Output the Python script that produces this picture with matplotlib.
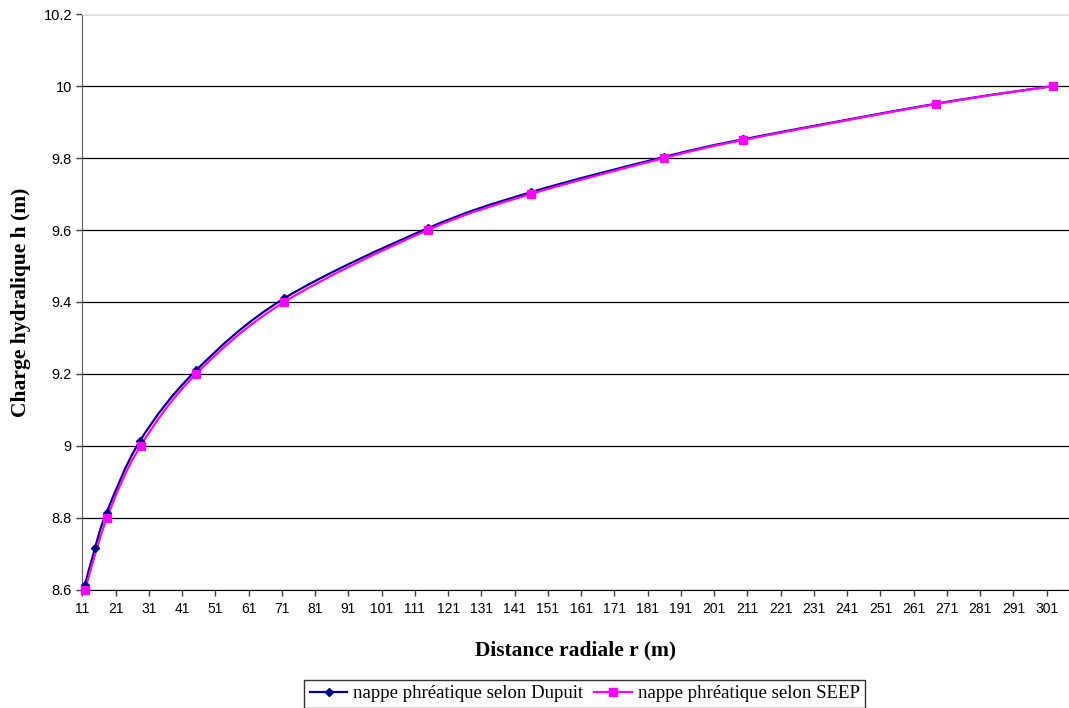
import numpy as np
import matplotlib
matplotlib.use('Agg')
import matplotlib.pyplot as plt
from matplotlib.path import Path
from matplotlib.patches import PathPatch
from matplotlib.lines import Line2D

# values
r_dupuit = [11.8, 14.8, 18.3, 28.4, 45.2, 71.7, 114.9, 145.9, 186.0, 209.8, 267.8, 303.0]
h_dupuit = [8.614, 8.716, 8.815, 9.015, 9.21, 9.41, 9.605, 9.705, 9.803, 9.852, 9.951, 10.0]
r_seep = [11.8, 18.4, 28.5, 45.2, 71.7, 114.9, 145.9, 186.0, 209.8, 267.8, 303.0]
h_seep = [8.60, 8.80, 9.00, 9.20, 9.40, 9.60, 9.70, 9.80, 9.85, 9.95, 10.0]

y_ticks = [8.6, 8.8, 9.0, 9.2, 9.4, 9.6, 9.8, 10.0, 10.2]
y_labels = ['8.6', '8.8', '9', '9.2', '9.4', '9.6', '9.8', '10', '10.2']
x_ticks = list(range(11, 302, 10))

label_dupuit = 'nappe phréatique selon Dupuit'
label_seep = 'nappe phréatique selon SEEP'
col_dupuit = '#000080'
col_seep = '#FF00FF'


def smooth_path(xs, ys):
    """Excel-like smoothed line: cubic Bezier through each point."""
    p = np.column_stack([xs, ys])
    n = len(p)
    verts = [p[0]]
    codes = [Path.MOVETO]
    for i in range(n - 1):
        p_prev = p[i - 1] if i > 0 else p[i]
        p_next = p[i + 2] if i + 2 < n else p[i + 1]
        c1 = p[i] + (p[i + 1] - p_prev) / 6.0
        c2 = p[i + 1] - (p_next - p[i]) / 6.0
        verts += [c1, c2, p[i + 1]]
        codes += [Path.CURVE4] * 3
    return Path(verts, codes)


fig = plt.figure(figsize=(10.69, 7.08), dpi=100)
ax = fig.add_axes([0.077, 0.1667, 0.923, 0.8135])

for xs, ys, col, mk, ms in [(r_dupuit, h_dupuit, col_dupuit, 'D', 4.5),
                            (r_seep, h_seep, col_seep, 's', 6)]:
    ax.add_patch(PathPatch(smooth_path(xs, ys), transform=ax.transData,
                           facecolor='none', edgecolor=col, lw=1.6, zorder=3))
    ax.plot(xs, ys, linestyle='none', marker=mk, markersize=ms,
            color=col, markeredgecolor=col, zorder=4, clip_on=False)

ax.set_xlim(11, 307.7)
ax.set_ylim(8.6, 10.2)
ax.set_xticks(x_ticks)
ax.set_xticklabels([str(t) for t in x_ticks], fontsize=10, family='Liberation Sans')
ax.set_yticks(y_ticks)
ax.set_yticklabels(y_labels, fontsize=10.5, family='Liberation Sans')
ax.tick_params(axis='both', direction='out', length=4, width=1, colors='#404040',
               labelcolor='black')
ax.tick_params(axis='x', pad=5)

ax.grid(axis='y', color='black', linewidth=0.9)
ax.set_axisbelow(True)
ax.spines['top'].set_color('#e4e4e4')
ax.spines['right'].set_visible(False)
ax.spines['left'].set_color('#606060')
ax.spines['bottom'].set_color('black')

ax.set_xlabel('Distance radiale r (m)', fontsize=15.5, fontweight='bold',
              family='Liberation Serif', labelpad=17)
ax.set_ylabel('Charge hydralique h (m)', fontsize=15.5, fontweight='bold',
              family='Liberation Serif', labelpad=9)

handles = [Line2D([], [], color=col_dupuit, lw=1.6, marker='D', markersize=4.5),
           Line2D([], [], color=col_seep, lw=1.6, marker='s', markersize=6)]
leg = fig.legend(handles, [label_dupuit, label_seep], loc='upper center',
                 bbox_to_anchor=(0.547, 0.04), ncol=2, frameon=True, fancybox=False,
                 edgecolor='black', prop={'family': 'Liberation Serif', 'size': 13.5},
                 handlelength=2.0, handletextpad=0.3, columnspacing=0.6,
                 borderpad=0.3, borderaxespad=0)
leg.get_frame().set_linewidth(1.0)

fig.savefig('out.png', dpi=100)
